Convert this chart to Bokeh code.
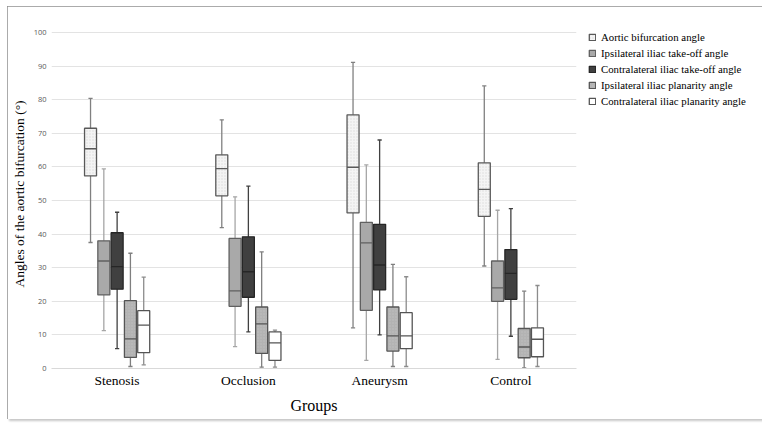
from bokeh.plotting import figure
from bokeh.models import (ColumnDataSource, FactorRange, Range1d, Legend, LegendItem,
                          FixedTicker)
from bokeh.transform import dodge
from bokeh.embed import file_html
from bokeh.resources import INLINE

groups = ["Stenosis", "Occlusion", "Aneurysm", "Control"]
series = ["Aortic bifurcation angle", "Ipsilateral iliac take-off angle",
          "Contralateral iliac take-off angle", "Ipsilateral iliac planarity angle",
          "Contralateral iliac planarity angle"]

aortic_lo = [37.5, 41.9, 12.1, 30.5]
aortic_q1 = [57.3, 51.4, 46.3, 45.3]
aortic_med = [65.4, 59.5, 59.9, 53.3]
aortic_q3 = [71.5, 63.6, 75.5, 61.2]
aortic_hi = [80.4, 74.0, 91.1, 84.1]

ipsi_to_lo = [11.3, 6.5, 2.4, 2.7]
ipsi_to_q1 = [21.9, 18.5, 17.3, 20.0]
ipsi_to_med = [32.0, 23.1, 37.4, 24.0]
ipsi_to_q3 = [38.0, 38.7, 43.5, 32.0]
ipsi_to_hi = [59.4, 51.1, 60.6, 47.1]

contra_to_lo = [5.9, 10.9, 10.0, 9.6]
contra_to_q1 = [23.6, 21.2, 23.4, 20.6]
contra_to_med = [30.3, 28.8, 30.8, 28.3]
contra_to_q3 = [40.4, 39.2, 42.9, 35.4]
contra_to_hi = [46.5, 54.3, 68.0, 47.6]

ipsi_pl_lo = [0.6, 0.4, 0.6, 0.2]
ipsi_pl_q1 = [3.3, 4.5, 5.2, 3.2]
ipsi_pl_med = [8.8, 13.3, 9.7, 6.4]
ipsi_pl_q3 = [20.2, 18.3, 18.3, 11.9]
ipsi_pl_hi = [34.3, 34.7, 31.0, 23.0]

contra_pl_lo = [1.1, 0.4, 0.6, 0.6]
contra_pl_q1 = [4.7, 2.4, 5.9, 3.5]
contra_pl_med = [12.9, 7.6, 9.7, 8.7]
contra_pl_q3 = [17.2, 10.9, 16.6, 12.1]
contra_pl_hi = [27.2, 11.4, 27.3, 24.7]

y_ticks = [0, 10, 20, 30, 40, 50, 60, 70, 80, 90, 100]

stats = [
    (aortic_lo, aortic_q1, aortic_med, aortic_q3, aortic_hi),
    (ipsi_to_lo, ipsi_to_q1, ipsi_to_med, ipsi_to_q3, ipsi_to_hi),
    (contra_to_lo, contra_to_q1, contra_to_med, contra_to_q3, contra_to_hi),
    (ipsi_pl_lo, ipsi_pl_q1, ipsi_pl_med, ipsi_pl_q3, ipsi_pl_hi),
    (contra_pl_lo, contra_pl_q1, contra_pl_med, contra_pl_q3, contra_pl_hi),
]

styles = [
    dict(fill="#f4f4f4", line="#595959", whisk="#808080", hatch="dot"),
    dict(fill="#a9a9a9", line="#606060", whisk="#a6a6a6", hatch=None),
    dict(fill="#404040", line="#262626", whisk="#404040", hatch=None),
    dict(fill="#b3b3b3", line="#555555", whisk="#7f7f7f", hatch="dot"),
    dict(fill="#ffffff", line="#555555", whisk="#8c8c8c", hatch=None),
]

offsets = [-0.2026, -0.1013, 0.0, 0.1013, 0.2026]
box_w = 0.0914
cap_w = 0.016

SERIF = "Liberation Serif"

p = figure(frame_width=525, frame_height=349, output_backend="svg", toolbar_location=None,
           x_range=FactorRange(*groups, range_padding=0), y_range=Range1d(0, 103.87),
           min_border_left=44, min_border_right=0, min_border_top=13,
           min_border_bottom=51)
p.styles = {"margin-left": "7px", "margin-top": "6px",
            "outline": "2px solid #8f8f8f", "outline-offset": "-2px",
            "box-shadow": "2px 2px 2px #c8c8c8"}
p.outline_line_color = None
p.background_fill_color = "white"
p.border_fill_color = "white"

p.xgrid.grid_line_color = None
p.ygrid.grid_line_color = "#e3e3e3"
p.ygrid.grid_line_width = 1
p.yaxis.ticker = FixedTicker(ticks=y_ticks)
p.yaxis.axis_line_color = None
p.yaxis.major_tick_line_color = None
p.yaxis.minor_tick_line_color = None
p.yaxis.major_tick_out = 0
p.yaxis.major_tick_in = 0
p.yaxis.minor_tick_out = 0
p.yaxis.minor_tick_in = 0
p.yaxis.major_label_text_font = "Open Sans"
p.yaxis.major_label_text_font_size = "7.5px"
p.yaxis.major_label_text_color = "#595959"
p.yaxis.major_label_standoff = 5
p.yaxis.axis_label = "Angles of the aortic bifurcation (°)"
p.yaxis.axis_label_text_font = SERIF
p.yaxis.axis_label_text_font_style = "normal"
p.yaxis.axis_label_text_font_size = "13.5px"
p.yaxis.axis_label_text_color = "#000000"
p.yaxis.axis_label_standoff = 4

p.xaxis.axis_line_color = "#d9d9d9"
p.xaxis.major_tick_line_color = None
p.xaxis.minor_tick_line_color = None
p.xaxis.major_tick_out = 0
p.xaxis.major_tick_in = 0
p.xaxis.minor_tick_out = 0
p.xaxis.minor_tick_in = 0
p.xaxis.major_label_text_font = SERIF
p.xaxis.major_label_text_font_size = "13.5px"
p.xaxis.major_label_text_color = "#000000"
p.xaxis.major_label_standoff = 4
p.xaxis.axis_label = "Groups"
p.xaxis.axis_label_text_font = SERIF
p.xaxis.axis_label_text_font_style = "normal"
p.xaxis.axis_label_text_font_size = "16px"
p.xaxis.axis_label_text_color = "#000000"
p.xaxis.axis_label_standoff = 6

items = []
for i, (st, sty) in enumerate(zip(stats, styles)):
    lo, q1, med, q3, hi = st
    src = ColumnDataSource(dict(g=groups, lo=lo, q1=q1, med=med, q3=q3, hi=hi))
    off = offsets[i]
    p.segment(x0=dodge("g", off, range=p.x_range), x1=dodge("g", off, range=p.x_range),
              y0="lo", y1="hi", source=src, line_color=sty["whisk"], line_width=1.3)
    for yk in ("lo", "hi"):
        p.segment(x0=dodge("g", off - cap_w, range=p.x_range),
                  x1=dodge("g", off + cap_w, range=p.x_range),
                  y0=yk, y1=yk, source=src, line_color=sty["whisk"], line_width=1.3)
    kw = {}
    if sty["hatch"]:
        kw = dict(hatch_pattern=sty["hatch"], hatch_scale=3, hatch_color="#c4c4c4",
                  hatch_weight=0.5, hatch_alpha=0.6)
    r = p.vbar(x=dodge("g", off, range=p.x_range), width=box_w, bottom="q1", top="q3",
               source=src, fill_color=sty["fill"], line_color=sty["line"],
               line_width=1.3, **kw)
    p.segment(x0=dodge("g", off - box_w / 2, range=p.x_range),
              x1=dodge("g", off + box_w / 2, range=p.x_range),
              y0="med", y1="med", source=src, line_color=sty["line"], line_width=1.3)
    items.append(LegendItem(label=series[i], renderers=[r]))

legend = Legend(items=items, location="top_left", orientation="vertical")
legend.label_text_font = SERIF
legend.label_text_font_size = "10.8px"
legend.label_text_color = "#000000"
legend.glyph_width = 8
legend.glyph_height = 8
legend.label_height = 12
legend.label_standoff = 5
legend.spacing = 4
legend.padding = 0
legend.margin = 12
legend.border_line_color = None
legend.background_fill_alpha = 0
p.add_layout(legend, "right")

open("out.html", "w").write(file_html(p, INLINE))
